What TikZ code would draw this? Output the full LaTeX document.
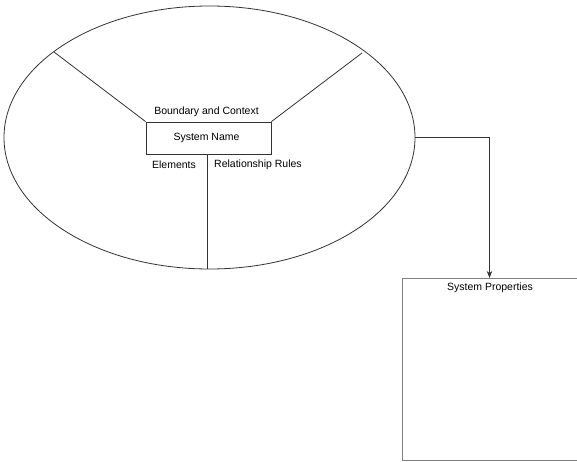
\documentclass[tikz,border=0pt]{standalone}
\usepackage{fontspec}
\setmainfont{Liberation Sans}
\usetikzlibrary{arrows.meta,shapes.geometric}
\begin{document}
\begin{tikzpicture}[x=1pt,y=-1pt,
  lbl/.style={inner sep=0pt, font=\fontsize{10.5}{12}\selectfont},
  thin line/.style={draw=black!80, line width=0.8pt},
  gray line/.style={draw=black!50, line width=1.4pt}]
  \useasboundingbox (0,0) rectangle (577,462);
  \clip (0,0) rectangle (577,462);
  % system ellipse
  \node[thin line, ellipse, minimum width=411, minimum height=263, inner sep=0pt] (sys) at (209.5,137.5) {};
  % central box with the system name
  \node[thin line, rectangle, minimum width=125, minimum height=32, inner sep=0pt] (name) at (208.5,138) {};
  \node[lbl] (nametxt) at (206.5,138) {System Name};
  % partition lines
  \coordinate (ul) at (54,52);
  \coordinate (ur) at (362,53);
  \coordinate (bot) at (207.3,269);
  \draw[thin line] (ul) -- (name.north west);
  \draw[thin line] (ur) -- (name.north east);
  \draw[thin line] (name.south -| bot) -- (bot);
  % region labels
  \node[lbl] (bc) at (206.5,111.5) {Boundary and Context};
  \node[lbl] (el) at (174,165) {Elements};
  \node[lbl] (rr) at (258,165) {Relationship Rules};
  % properties box
  \node[gray line, rectangle, anchor=north west, minimum width=200, minimum height=182, inner sep=0pt] (props) at (401.5,278) {};
  \node[lbl] (proptxt) at (490,288) {System Properties};
  \coordinate (pin) at (489.5,278);
  % connector
  \draw[thin line, -{Stealth[length=7pt,width=5.5pt]}] (sys.east) -- (pin |- sys.east) -- (pin);
\end{tikzpicture}
\end{document}
